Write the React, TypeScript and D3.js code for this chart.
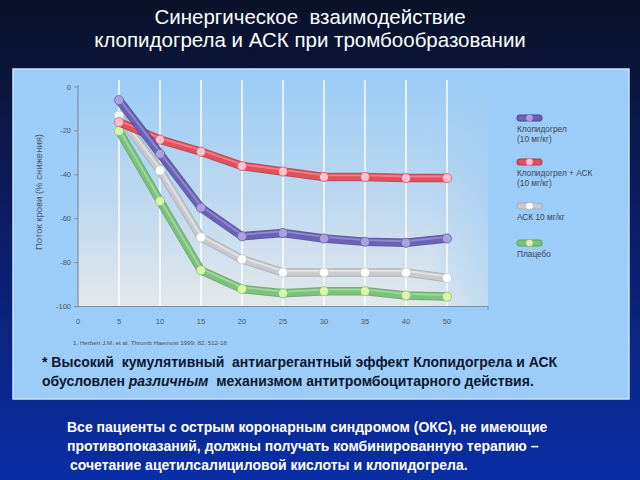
import React from "react";
import * as d3 from "d3";

const categories = ["0", "5", "10", "15", "20", "25", "30", "35", "40", "50"];
const dataCats = ["5", "10", "15", "20", "25", "30", "35", "40", "50"];
const yTicks = [0, -20, -40, -60, -80, -100];

const clopidogrel = [-6, -30.5, -55, -68, -66.5, -69, -70.5, -71, -69];
const clopidogrelAsa = [-16, -24, -29.5, -36, -38.5, -41, -41, -41.5, -41.5];
const asa = [-13, -38, -68.5, -78.5, -84.5, -84.5, -84.5, -84.5, -87];
const placebo = [-20, -52, -83.5, -92, -94, -93, -93, -95, -95.5];

const seriesNames = ["Клопидогрел|(10 мг/кг)", "Клопидогрел + АСК|(10 мг/кг)", "АСК 10 мг/кг", "Плацебо"];

const titleLines = ["Синергическое  взаимодействие", "клопидогрела и АСК при тромбообразовании"];

const series = [
  { name: seriesNames[0], values: clopidogrel, dark: "#4f4593", main: "#6c62b4", light: "#9b93d6", marker: "#a9a2dc" },
  { name: seriesNames[1], values: clopidogrelAsa, dark: "#b8343f", main: "#e2505c", light: "#f38a93", marker: "#f8c3d3" },
  { name: seriesNames[2], values: asa, dark: "#a9abb2", main: "#c9cace", light: "#e6e7ea", marker: "#ffffff" },
  { name: seriesNames[3], values: placebo, dark: "#5da35e", main: "#7cc17d", light: "#a8dca5", marker: "#dcf5a8" },
];

const drawOrder = [3, 2, 1, 0];

export default function App() {
  const x = d3.scalePoint<string>().domain(categories).range([78, 447]).padding(0);
  const y = d3.scaleLinear().domain([-100, 0]).range([306.5, 87]);
  const line = d3
    .line<[string, number]>()
    .x((d) => x(d[0]) as number)
    .y((d) => y(d[1]));

  const legendY = [118, 162, 206, 243];

  return (
    <svg
      width={640}
      height={480}
      style={{ position: "absolute", left: 0, top: 0, display: "block" }}
      fontFamily="Liberation Sans, Arial, sans-serif"
    >
      <defs>
        <linearGradient id="bg" x1="0" y1="0" x2="0" y2="1">
          <stop offset="0" stopColor="#0a1128" />
          <stop offset="0.35" stopColor="#0b1a55" />
          <stop offset="1" stopColor="#0a2ea6" />
        </linearGradient>
        <linearGradient id="plotbg" x1="0" y1="0" x2="0" y2="1">
          <stop offset="0" stopColor="#9ccdf7" />
          <stop offset="0.55" stopColor="#bfd9ef" />
          <stop offset="1" stopColor="#e4e8eb" />
        </linearGradient>
        <linearGradient id="plotfade" x1="0" y1="0" x2="1" y2="0">
          <stop offset="0" stopColor="#9ccdf7" stopOpacity="0" />
          <stop offset="0.85" stopColor="#9ccdf7" stopOpacity="0" />
          <stop offset="1" stopColor="#9ccdf7" stopOpacity="0.5" />
        </linearGradient>
      </defs>
      <rect x={0} y={0} width={640} height={480} fill="url(#bg)" />
      {titleLines.map((t, i) => (
        <text key={i} x={310} y={24 + i * 23} textAnchor="middle" fill="#ffffff" fontSize={20.5} style={{ whiteSpace: "pre" }}>
          {t}
        </text>
      ))}

      <rect x={13} y={69} width={616} height={330} fill="#9ccdf8" stroke="#c9e3fb" strokeWidth={1.5} />
      <rect x={78} y={80} width={410} height={226.5} fill="url(#plotbg)" />
      <rect x={78} y={80} width={410} height={226.5} fill="url(#plotfade)" />

      {dataCats.map((c) => (
        <line key={c} x1={x(c)} x2={x(c)} y1={80} y2={306} stroke="#ffffff" strokeWidth={1.6} opacity={0.9} />
      ))}

      {/* axes */}
      <line x1={78} x2={78} y1={85} y2={306.5} stroke="#7d8ea3" strokeWidth={1.2} />
      <line x1={78} x2={488} y1={306.5} y2={306.5} stroke="#7d8ea3" strokeWidth={1.2} />
      <line x1={488} x2={488} y1={306.5} y2={310} stroke="#7d8ea3" strokeWidth={1} />
      {yTicks.map((t) => (
        <g key={t}>
          <line x1={74} x2={78} y1={y(t)} y2={y(t)} stroke="#7d8ea3" strokeWidth={1} />
          <text x={71} y={y(t) + 2.5} textAnchor="end" fontSize={7.5} fill="#4a5566">
            {t}
          </text>
        </g>
      ))}
      {categories.map((c) => (
        <text key={c} x={x(c)} y={324} textAnchor="middle" fontSize={7.5} fill="#4a5566">
          {c}
        </text>
      ))}
      <text transform="translate(42,192) rotate(-90)" textAnchor="middle" fontSize={9.5} fill="#4a5566">
        Поток крови (% снижения)
      </text>

      {drawOrder.map((si) => {
        const s = series[si];
        const pts: [string, number][] = dataCats.map((c, i) => [c, s.values[i]]);
        const path = line(pts) as string;
        return (
          <g key={si}>
            <path d={path} fill="none" stroke={s.dark} strokeWidth={8.5} strokeLinejoin="round" strokeLinecap="round" opacity={0.85} />
            <path d={path} fill="none" stroke={s.main} strokeWidth={6.5} strokeLinejoin="round" strokeLinecap="round" />
            <path d={path} transform="translate(0,-1.6)" fill="none" stroke={s.light} strokeWidth={1.8} strokeLinejoin="round" strokeLinecap="round" opacity={0.8} />
            {pts.map((p, i) => (
              <circle key={i} cx={x(p[0])} cy={y(p[1])} r={4.6} fill={s.marker} stroke={s.main} strokeWidth={0.8} />
            ))}
          </g>
        );
      })}

      {/* legend */}
      {series.map((s, i) => {
        const ly = legendY[i];
        const lines = s.name.split("|");
        return (
          <g key={i}>
            <line x1={520} x2={539} y1={ly} y2={ly} stroke={s.dark} strokeWidth={7} strokeLinecap="round" />
            <line x1={520} x2={539} y1={ly} y2={ly} stroke={s.main} strokeWidth={5} strokeLinecap="round" />
            <circle cx={529.5} cy={ly} r={3.3} fill={s.marker} />
            {lines.map((l, j) => (
              <text key={j} x={517} y={ly + 14 + j * 10} fontSize={8.3} fill="#3a4456">
                {l}
              </text>
            ))}
          </g>
        );
      })}

      <text x={73} y={345} fontSize={6.2} fill="#4a5566">
        1. Herbert J.M. et al. Thromb Haemost 1999; 82: 512-18
      </text>
      <text x={42} y={367} fontSize={14} fontWeight="bold" fill="#0d1733" style={{ whiteSpace: "pre" }}>
        * Высокий  кумулятивный  антиагрегантный эффект Клопидогрела и АСК
      </text>
      <text x={42} y={386} fontSize={14} fontWeight="bold" fill="#0d1733" style={{ whiteSpace: "pre" }}>
        обусловлен <tspan fontStyle="italic">различным</tspan>  механизмом антитромбоцитарного действия.
      </text>

      <text x={67} y={432} fontSize={14} fontWeight="bold" fill="#ffffff">
        Все пациенты с острым коронарным синдромом (ОКС), не имеющие
      </text>
      <text x={67} y={451} fontSize={14} fontWeight="bold" fill="#ffffff">
        противопоказаний, должны получать комбинированную терапию –
      </text>
      <text x={70} y={470} fontSize={14} fontWeight="bold" fill="#ffffff">
        сочетание ацетилсалициловой кислоты и клопидогрела.
      </text>
    </svg>
  );
}
